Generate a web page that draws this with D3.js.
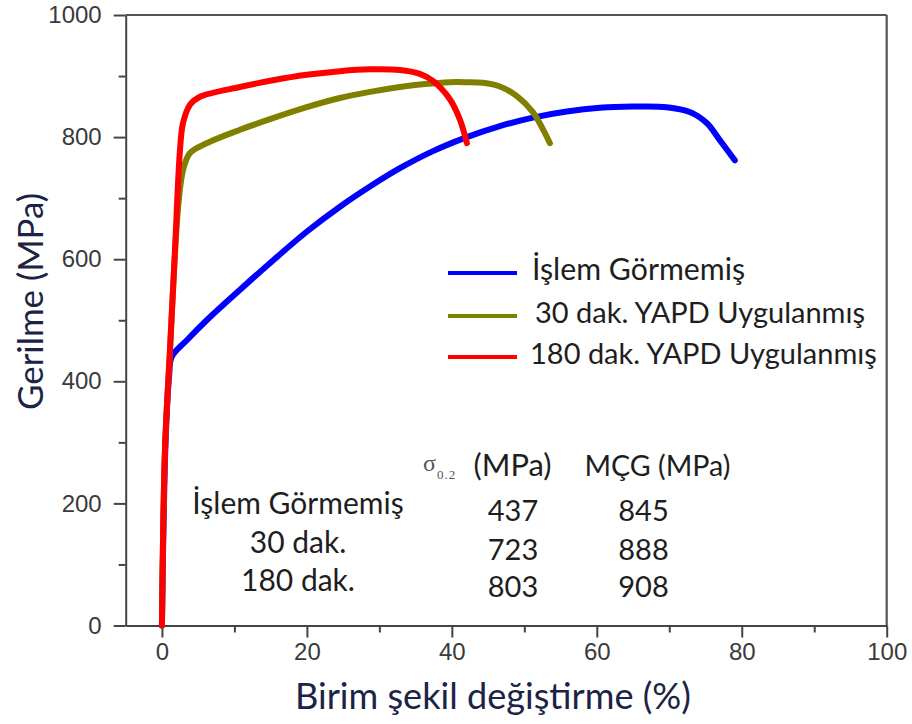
<!DOCTYPE html>
<html>
<head>
<meta charset="utf-8">
<script src="https://cdn.jsdelivr.net/npm/d3@7"></script>
<style>
  html, body { margin: 0; padding: 0; background: #fff; }
  svg { display: block; }
</style>
</head>
<body>
<svg id="chart" width="912" height="724"></svg>
<script>
// ---------------- DATA ----------------
const xTickValues = [0, 20, 40, 60, 80, 100];
const xMinorTicks = [10, 30, 50, 70, 90];
const yTickValues = [0, 200, 400, 600, 800, 1000];
const yMinorTicks = [100, 300, 500, 700, 900];

const xTitle = "Birim şekil değiştirme (%)";
const yTitle = "Gerilme (MPa)";

const seriesNames = ["İşlem Görmemiş", "30 dak. YAPD Uygulanmış", "180 dak. YAPD Uygulanmış"];
const seriesColors = ["#0000ff", "#808000", "#ff0000"];

// İşlem Görmemiş
const blueStrain = [0, 0.5, 1.0, 1.34, 3.5, 6.17, 10.77, 15.32, 19.97, 24.56, 28.7, 32.83, 37.39, 42.08, 46.63, 51.18, 55.87, 60.42, 64.97, 69.66, 72.83, 75.17, 76.97, 79.04];
const blueStress = [0, 300, 410, 440, 468, 500, 550, 598, 645, 686, 719, 749, 777, 800, 818, 832, 842, 848, 850, 849, 841, 823, 795, 762];
// 30 dak. YAPD
const oliveStrain = [0, 0.42, 1.11, 1.8, 2.2, 2.6, 3.0, 3.87, 6.17, 10.77, 15.32, 19.97, 24.56, 28.7, 32.83, 36.3, 39.73, 42.0, 44.28, 46.63, 48.97, 51.18, 52.56, 53.53];
const oliveStress = [0, 288, 451, 610, 680, 725, 750, 774, 790, 812, 831, 849, 864, 874, 882, 887, 890, 890, 889, 883, 867, 841, 813, 790];
// 180 dak. YAPD
const redStrain = [0, 0.42, 1.11, 1.8, 2.49, 2.91, 3.87, 5.25, 10.77, 15.32, 19.97, 24.56, 28.7, 32.83, 35.5, 37.39, 39.73, 41.1, 42.08];
const redStress = [0, 288, 451, 615, 779, 823, 853, 866, 882, 893, 902, 908, 911, 910, 904, 892, 862, 829, 790];

// table
const tableRowLabels = ["İşlem Görmemiş", "30 dak.", "180 dak."];
const yieldValues = [437, 723, 803];
const utsValues = [845, 888, 908];
const tableHeaderUnit = "(MPa)";
const tableHeaderUts = "MÇG (MPa)";

// ---------------- DRAW ----------------
const svg = d3.select("#chart");
const x = d3.scaleLinear().domain([-5, 100]).range([125.7, 886.7]);
const y = d3.scaleLinear().domain([0, 1000]).range([625.5, 15]);

const axisColor = "#444";
const tickFont = "'Liberation Sans', Arial, sans-serif";
const textFont = "Lato, 'Open Sans', sans-serif";

// frame top/right
svg.append("line").attr("x1", x(-5)).attr("x2", x(100)).attr("y1", y(1000)).attr("y2", y(1000))
  .attr("stroke", "#555").attr("stroke-width", 2.2);
svg.append("line").attr("x1", x(100)).attr("x2", x(100)).attr("y1", y(1000)).attr("y2", y(0))
  .attr("stroke", "#555").attr("stroke-width", 2.2);

// x axis
const gx = svg.append("g").attr("transform", `translate(0,${y(0)})`)
  .call(d3.axisBottom(x).tickValues(xTickValues).tickSize(12).tickSizeOuter(0).tickPadding(5).tickFormat(d3.format("d")));
const gxm = svg.append("g").attr("transform", `translate(0,${y(0)})`)
  .call(d3.axisBottom(x).tickValues(xMinorTicks).tickSize(7).tickSizeOuter(0).tickFormat(""));
gxm.select(".domain").remove();

// y axis
const gy = svg.append("g").attr("transform", `translate(${x(-5)},0)`)
  .call(d3.axisLeft(y).tickValues(yTickValues).tickSize(12).tickSizeOuter(0).tickPadding(12).tickFormat(d3.format("d")));
const gym = svg.append("g").attr("transform", `translate(${x(-5)},0)`)
  .call(d3.axisLeft(y).tickValues(yMinorTicks).tickSize(7).tickSizeOuter(0).tickFormat(""));
gym.select(".domain").remove();

[gx, gxm, gy, gym].forEach(g => {
  g.selectAll(".domain").attr("stroke", axisColor).attr("stroke-width", 2);
  g.selectAll(".tick line").attr("stroke", axisColor).attr("stroke-width", 2);
  g.selectAll(".tick text").attr("fill", "#3a3a3a").style("font-family", tickFont).style("font-size", "24px");
});

// curves
const line = d3.line().x(d => x(d[0])).y(d => y(d[1])).curve(d3.curveCatmullRom.alpha(0.5));
const series = [
  d3.zip(blueStrain, blueStress),
  d3.zip(oliveStrain, oliveStress),
  d3.zip(redStrain, redStress)
];
series.forEach((pts, i) => {
  svg.append("path").datum(pts).attr("d", line)
    .attr("fill", "none").attr("stroke", seriesColors[i])
    .attr("stroke-width", 6).attr("stroke-linejoin", "round").attr("stroke-linecap", "round");
});

// helper: fit text width
function fit(sel, target) {
  const node = sel.node();
  const fs = parseFloat(sel.style("font-size"));
  const w = node.getComputedTextLength();
  if (w > 0) sel.style("font-size", (fs * target / w).toFixed(2) + "px");
  return sel;
}

// axis titles
const titleColor = "#1b2445";
fit(svg.append("text").attr("x", 493).attr("y", 709).attr("text-anchor", "middle")
  .style("font-family", textFont).style("font-size", "32px").attr("fill", titleColor).text(xTitle), 396);
fit(svg.append("text").attr("transform", "translate(43,301.5) rotate(-90)").attr("text-anchor", "middle")
  .style("font-family", textFont).style("font-size", "32px").attr("fill", titleColor).text(yTitle), 217);

// legend
const legendLineY = [273, 316, 357];
const legendTextX = [532, 535, 530];
const legendWidths = [213, 330, 347];
seriesNames.forEach((name, i) => {
  svg.append("line").attr("x1", 448).attr("x2", 517).attr("y1", legendLineY[i]).attr("y2", legendLineY[i])
    .attr("stroke", seriesColors[i]).attr("stroke-width", 4);
  fit(svg.append("text").attr("x", legendTextX[i]).attr("y", legendLineY[i] + 7)
    .style("font-family", textFont).style("font-size", "30px").attr("fill", "#1e1e1e").text(name), legendWidths[i]);
});

// table header
svg.append("text").attr("x", 423).attr("y", 471)
  .style("font-family", "'Liberation Serif', 'Times New Roman', serif").style("font-size", "24px")
  .attr("fill", "#555").text("σ");
svg.append("text").attr("x", 437).attr("y", 479)
  .style("font-family", "'Liberation Serif', 'Times New Roman', serif").style("font-size", "13px")
  .style("letter-spacing", "1px").attr("fill", "#555").text("0.2");
fit(svg.append("text").attr("x", 512.5).attr("y", 476).attr("text-anchor", "middle")
  .style("font-family", textFont).style("font-size", "30px").attr("fill", "#1e1e1e").text(tableHeaderUnit), 78);
fit(svg.append("text").attr("x", 657.5).attr("y", 476).attr("text-anchor", "middle")
  .style("font-family", textFont).style("font-size", "30px").attr("fill", "#1e1e1e").text(tableHeaderUts), 146);

// table rows
const rowLabelBase = [514, 553, 591];
const rowValueBase = [521, 560, 597];
tableRowLabels.forEach((lab, i) => {
  svg.append("text").attr("x", 298).attr("y", rowLabelBase[i]).attr("text-anchor", "middle")
    .style("font-family", textFont).style("font-size", "30px").attr("fill", "#1e1e1e").text(lab);
  svg.append("text").attr("x", 513).attr("y", rowValueBase[i]).attr("text-anchor", "middle")
    .style("font-family", textFont).style("font-size", "29px").attr("fill", "#1e1e1e").text(yieldValues[i]);
  svg.append("text").attr("x", 643.5).attr("y", rowValueBase[i]).attr("text-anchor", "middle")
    .style("font-family", textFont).style("font-size", "29px").attr("fill", "#1e1e1e").text(utsValues[i]);
});
</script>
</body>
</html>
